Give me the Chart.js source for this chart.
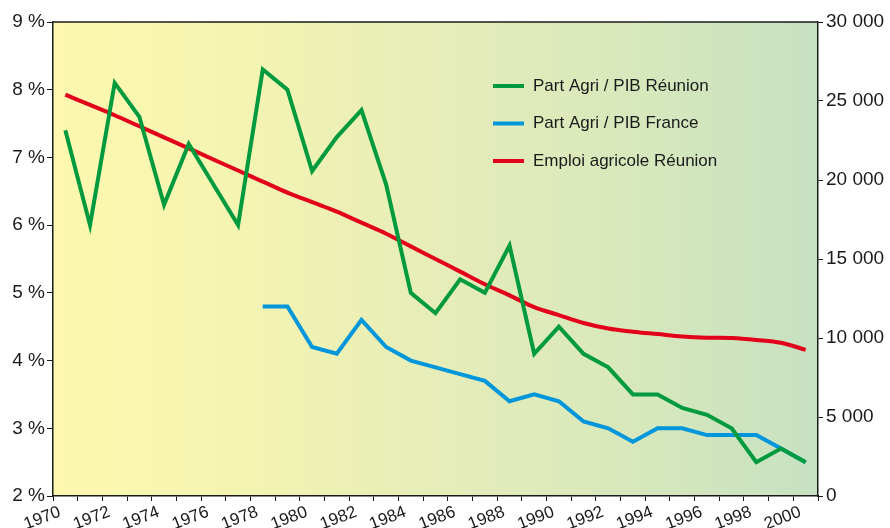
<!DOCTYPE html>
<html>
<head>
<meta charset="utf-8">
<script src="https://cdn.jsdelivr.net/npm/chart.js@4"></script>
<style>
  html, body { margin: 0; padding: 0; background: #fff; }
  #wrap { width: 890px; height: 528px; }
</style>
</head>
<body>
<div id="wrap"><canvas id="agriChart" width="890" height="528"></canvas></div>
<script>
// data
const years = [1970,1971,1972,1973,1974,1975,1976,1977,1978,1979,1980,1981,1982,1983,1984,1985,
               1986,1987,1988,1989,1990,1991,1992,1993,1994,1995,1996,1997,1998,1999,2000];
const partReunion = [7.4,6.0,8.1,7.6,6.3,7.2,6.6,6.0,8.3,8.0,6.8,7.3,7.7,6.6,5.0,4.7,
                     5.2,5.0,5.7,4.1,4.5,4.1,3.9,3.5,3.5,3.3,3.2,3.0,2.5,2.7,2.5];
const partFrance = [null,null,null,null,null,null,null,null,4.8,4.8,4.2,4.1,4.6,4.2,4.0,3.9,
                    3.8,3.7,3.4,3.5,3.4,3.1,3.0,2.8,3.0,3.0,2.9,2.9,2.9,2.7,2.5];
const emploiReunion = [25400,24750,24100,23400,22700,22000,21300,20600,19900,19200,18600,18000,17300,16600,15800,15000,
                       14200,13400,12700,11950,11450,10950,10600,10400,10250,10100,10020,10000,9880,9700,9250];
const seriesNames = ['Part Agri / PIB Réunion', 'Part Agri / PIB France', 'Emploi agricole Réunion'];
const leftTicks = [2,3,4,5,6,7,8,9];
const rightTicks = [0,5000,10000,15000,20000,25000,30000];

const FONT = '"Liberation Sans", Arial, sans-serif';
const INK = '#1a1a1a';

// points sit in the middle of each year
const toPts = arr => arr.map((v, i) => ({ x: years[i] + 0.5, y: v }));

const bgPlugin = {
  id: 'bg',
  beforeDraw(chart) {
    const { ctx, chartArea: a } = chart;
    const g = ctx.createLinearGradient(a.left, 0, a.right, 0);
    g.addColorStop(0, '#fdf8ae');
    g.addColorStop(0.25, '#f4f4b2');
    g.addColorStop(0.5, '#e6edb8');
    g.addColorStop(0.75, '#d8e8bc');
    g.addColorStop(1, '#c6e1c1');
    ctx.save();
    ctx.fillStyle = g;
    ctx.fillRect(a.left, a.top, a.right - a.left, a.bottom - a.top);
    ctx.restore();
  },
  afterDraw(chart) {
    const { ctx, chartArea: a } = chart;
    ctx.save();
    // top frame line
    ctx.strokeStyle = INK;
    ctx.lineWidth = 1.5;
    ctx.beginPath();
    ctx.moveTo(a.left, a.top);
    ctx.lineTo(a.right, a.top);
    ctx.stroke();
    // legend inside the plot
    ctx.font = '17px ' + FONT;
    ctx.textBaseline = 'middle';
    chart.data.datasets.forEach((ds, i) => {
      const y = 86 + i * 37.5;
      ctx.strokeStyle = ds.borderColor;
      ctx.lineWidth = 4;
      ctx.beginPath();
      ctx.moveTo(493, y);
      ctx.lineTo(524, y);
      ctx.stroke();
      ctx.fillStyle = INK;
      ctx.fillText(ds.label, 533, y);
    });
    ctx.restore();
  }
};

new Chart(document.getElementById('agriChart'), {
  type: 'line',
  data: {
    datasets: [
      { label: seriesNames[0], data: toPts(partReunion), borderColor: '#009a3e', yAxisID: 'y' },
      { label: seriesNames[1], data: toPts(partFrance), borderColor: '#0096db', yAxisID: 'y', spanGaps: false },
      { label: seriesNames[2], data: toPts(emploiReunion), borderColor: '#e2001a', yAxisID: 'y2', tension: 0.35 }
    ]
  },
  options: {
    responsive: false,
    animation: false,
    layout: { padding: { top: 22, left: 0, right: 0, bottom: 0 } },
    elements: {
      line: { borderWidth: 4, fill: false, borderJoinStyle: 'miter', borderCapStyle: 'butt' },
      point: { radius: 0 }
    },
    plugins: { legend: { display: false }, tooltip: { enabled: false } },
    scales: {
      x: {
        type: 'linear',
        min: years[0],
        max: years[years.length - 1] + 1,
        afterFit: s => { s.height = 32; },
        afterBuildTicks: s => { s.ticks = years.concat([years[years.length - 1] + 1]).map(v => ({ value: v })); },
        ticks: {
          autoSkip: false,
          minRotation: 21,
          maxRotation: 21,
          padding: 1,
          labelOffset: 7,
          color: INK,
          font: { family: FONT, size: 17 },
          callback: v => (v % 2 === 0 && v <= 2000) ? String(v) : ''
        },
        grid: { drawOnChartArea: false, color: INK, tickLength: 5, tickColor: INK },
        border: { color: INK, width: 1.5 }
      },
      y: {
        position: 'left',
        min: 2,
        max: 9,
        afterFit: s => { s.width = 53; },
        afterBuildTicks: s => { s.ticks = leftTicks.map(v => ({ value: v })); },
        ticks: {
          padding: 2,
          color: INK,
          font: { family: FONT, size: 19 },
          callback: v => v + ' %'
        },
        grid: { drawOnChartArea: false, tickLength: 6, tickColor: INK },
        border: { color: INK, width: 1.5 }
      },
      y2: {
        position: 'right',
        min: 0,
        max: 30000,
        afterFit: s => { s.width = 72; },
        afterBuildTicks: s => { s.ticks = rightTicks.map(v => ({ value: v })); },
        ticks: {
          padding: 3,
          color: INK,
          font: { family: FONT, size: 19 },
          callback: v => String(v).replace(/\B(?=(\d{3})+(?!\d))/g, ' ')
        },
        grid: { drawOnChartArea: false, tickLength: 5, tickColor: INK },
        border: { color: INK, width: 1.5 }
      }
    }
  },
  plugins: [bgPlugin]
});
</script>
</body>
</html>
